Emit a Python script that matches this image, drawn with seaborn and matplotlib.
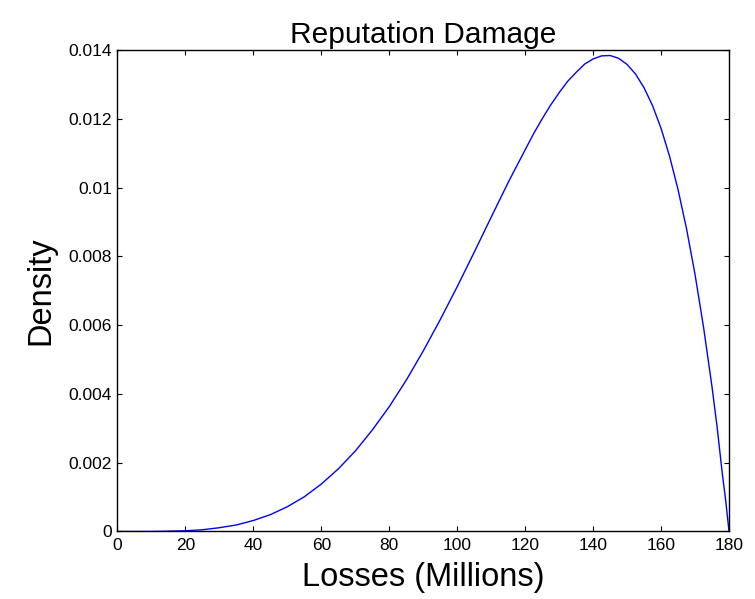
import matplotlib
matplotlib.use("Agg")
import matplotlib.pyplot as plt
import seaborn as sns
import pandas as pd

# Data
losses = [0, 5, 10, 15, 20, 25, 30, 35, 40, 45, 50, 55, 60, 65, 70, 75, 80, 85, 90,
          95, 100, 105, 110, 115, 120, 122.5, 125, 127.5, 130, 132.5, 135, 137.5,
          140, 142.5, 145, 147.5, 150, 152.5, 155, 157.5, 160, 162.5, 165, 167.5,
          170, 172.5, 175, 176.5, 178, 179, 180]
density = [0.0, 0.0, 0.0, 0.00001, 0.00002, 0.00005, 0.00011, 0.00019, 0.00032,
           0.00049, 0.00072, 0.00101, 0.00138, 0.00182, 0.00234, 0.00295, 0.00363,
           0.00440, 0.00525, 0.00616, 0.00712, 0.00812, 0.00914, 0.01015, 0.01110,
           0.01157, 0.01200, 0.01240, 0.01276, 0.01309, 0.01335, 0.01359,
           0.01374, 0.01383, 0.01384, 0.01376, 0.01358, 0.01330, 0.01290, 0.01238,
           0.01172, 0.01091, 0.00994, 0.00880, 0.00747, 0.00594, 0.00420, 0.00303,
           0.00170, 0.00092, 0.0]
x_ticks = [0, 20, 40, 60, 80, 100, 120, 140, 160, 180]
y_ticks = [0, 0.002, 0.004, 0.006, 0.008, 0.010, 0.012, 0.014]
y_tick_labels = ["0", "0.002", "0.004", "0.006", "0.008", "0.01", "0.012", "0.014"]

title = "Reputation Damage"
xlabel = "Losses (Millions)"
ylabel = "Density"

sns.set_style("white")
plt.rcParams["font.family"] = ["Liberation Sans", "DejaVu Sans"]

df = pd.DataFrame({"x": losses, "y": density})

fig = plt.figure(figsize=(7.55, 5.99), dpi=100)
ax = fig.add_axes([0.1556, 0.1127, 0.81, 0.8038])

sns.lineplot(data=df, x="x", y="y", ax=ax, color="#0000ff", linewidth=1.0)

ax.set_xlim(0, 180)
ax.set_ylim(0, 0.014)
ax.set_xticks(x_ticks)
ax.set_xticklabels([str(t) for t in x_ticks])
ax.set_yticks(y_ticks)
ax.set_yticklabels(y_tick_labels)

ax.tick_params(axis="both", which="both", direction="in", length=3.5, width=0.8,
               colors="black", labelsize=12.5, top=True, right=True,
               bottom=True, left=True)
ax.tick_params(axis="x", pad=5)
ax.tick_params(axis="y", pad=4)

for s in ax.spines.values():
    s.set_visible(True)
    s.set_color("black")
    s.set_linewidth(1.0)

ax.set_title(title, fontsize=21.5, pad=5, color="black")
ax.set_xlabel(xlabel, fontsize=23.5, labelpad=6, color="black")
ax.set_ylabel(ylabel, fontsize=23.5, labelpad=9, color="black")

fig.savefig("out.png", dpi=100)
